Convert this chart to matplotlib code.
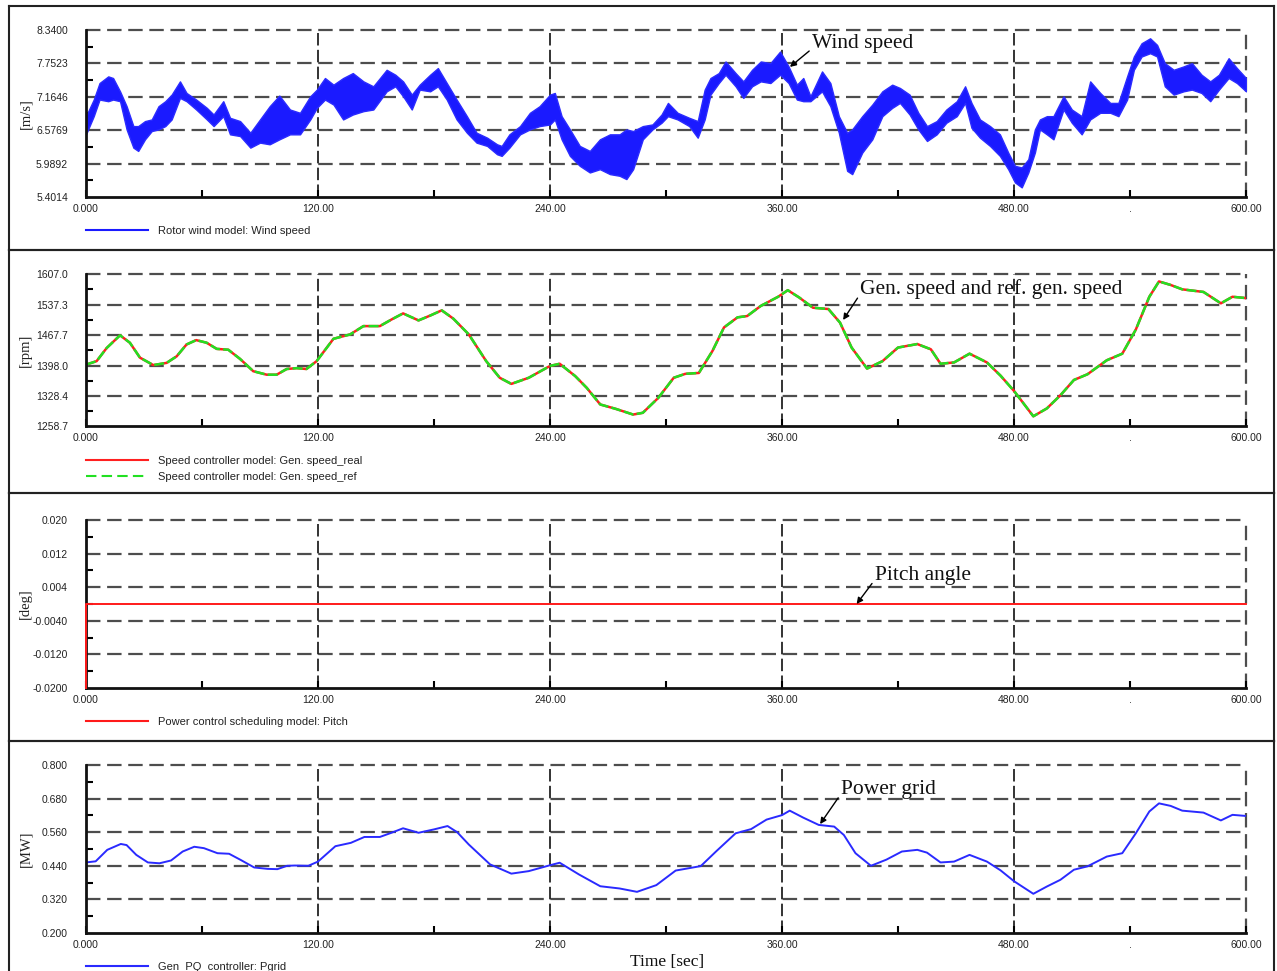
import matplotlib
matplotlib.use("Agg")
import matplotlib.pyplot as plt
from matplotlib.lines import Line2D

# ---------------- data ----------------
wind_t = [0, 4, 7, 11.5, 14, 17.6, 21, 24.5, 27, 30.5, 34, 37.5, 41, 44.3, 48.6, 52, 57, 62.5, 66, 71,
          74.5, 79.7, 85, 90, 95, 100, 105.5, 110.7, 116, 119.4, 123.6, 128, 133, 138, 143.5, 148.6,
          155.5, 160, 164, 168.5, 172.6, 178, 182, 186.6, 191.7, 197, 202, 207.5, 212.6, 215, 219,
          224.5, 229.6, 234.6, 240, 242.5, 246, 250.3, 255.4, 260.6, 265.8, 271, 276, 279.5, 283, 288,
          293, 297.7, 301, 306, 312, 316.4, 320, 323, 327.3, 330.8, 336, 340, 344.5, 349, 354, 359,
          363.4, 367.7, 371, 374.7, 380.7, 385, 389.4, 393.7, 396.3, 401.5, 406.7, 411.9, 417, 421,
          426, 430.5, 435, 440, 445, 450.4, 454.7, 458, 462.4, 467.6, 472.7, 477, 480.5, 484, 487.4,
          490.8, 493.4, 497, 500.4, 505.6, 509.9, 515, 519.4, 524.6, 529.8, 534, 538.5, 542, 546,
          550.4, 554, 558, 562.6, 567.7, 572, 577, 581.5, 586, 591, 595.3, 600]
wind_lo = [6.504, 6.824, 7.116, 7.087, 7.116, 7.087, 6.591, 6.27, 6.212, 6.416, 6.562, 6.591, 6.649, 6.766,
           7.145, 7.087, 6.941, 6.766, 6.649, 6.824, 6.504, 6.474, 6.27, 6.358, 6.329, 6.416, 6.504, 6.504,
           6.766, 6.97, 7.116, 7.028, 6.766, 6.853, 6.912, 6.941, 7.261, 7.349, 7.174, 6.941, 7.291, 7.261,
           7.349, 7.116, 6.766, 6.533, 6.358, 6.3, 6.154, 6.125, 6.27, 6.504, 6.591, 6.649, 6.678, 6.766,
           6.416, 6.125, 5.95, 5.833, 5.891, 5.804, 5.775, 5.717, 5.891, 6.416, 6.591, 6.708, 6.824, 6.766,
           6.649, 6.445, 6.766, 7.203, 7.407, 7.553, 7.349, 7.145, 7.349, 7.436, 7.407, 7.553, 7.407, 7.116,
           7.087, 7.087, 7.261, 6.999, 6.533, 5.862, 5.804, 6.183, 6.416, 6.824, 6.97, 7.057, 6.853, 6.591,
           6.387, 6.504, 6.708, 6.824, 7.057, 6.62, 6.445, 6.3, 6.125, 5.891, 5.658, 5.571, 5.833, 6.183,
           6.591, 6.504, 6.416, 6.941, 6.708, 6.504, 6.766, 6.883, 6.883, 6.824, 7.116, 7.64, 7.874, 7.932,
           7.874, 7.349, 7.203, 7.261, 7.291, 7.232, 7.087, 7.291, 7.495, 7.407, 7.261]
wind_hi = [6.824, 7.116, 7.407, 7.524, 7.495, 7.261, 6.999, 6.649, 6.649, 6.737, 6.766, 6.999, 7.087, 7.203,
           7.436, 7.232, 7.116, 6.97, 6.853, 7.087, 6.795, 6.737, 6.533, 6.766, 6.999, 7.186, 6.941, 6.883,
           7.174, 7.291, 7.495, 7.378, 7.495, 7.582, 7.436, 7.349, 7.64, 7.553, 7.436, 7.203, 7.378, 7.553,
           7.67, 7.407, 7.116, 6.824, 6.533, 6.445, 6.329, 6.3, 6.504, 6.649, 6.883, 6.999, 7.203, 7.232,
           6.824, 6.591, 6.3, 6.212, 6.416, 6.504, 6.504, 6.591, 6.562, 6.649, 6.678, 6.853, 7.057, 6.883,
           6.795, 6.737, 7.291, 7.495, 7.582, 7.786, 7.582, 7.436, 7.64, 7.786, 7.757, 7.961, 7.699, 7.378,
           7.495, 7.174, 7.611, 7.407, 6.824, 6.533, 6.591, 6.824, 7.028, 7.261, 7.378, 7.32, 7.203, 6.883,
           6.649, 6.737, 6.941, 7.087, 7.349, 7.057, 6.766, 6.649, 6.504, 6.183, 5.95, 5.921, 6.066, 6.591,
           6.766, 6.824, 6.824, 7.174, 6.941, 6.824, 7.436, 7.232, 7.057, 7.057, 7.524, 7.874, 8.107, 8.194,
           8.078, 7.757, 7.64, 7.699, 7.757, 7.553, 7.436, 7.553, 7.844, 7.67, 7.495]

speed_t = [0, 5.5, 10.7, 17.6, 22.7, 27.9, 34.8, 41.7, 46.9, 52, 57, 62.4, 67.6, 73.6, 79.7, 86.5, 93.5,
           98.6, 103.8, 109, 114, 119.3, 128, 136.6, 143.5, 152, 158, 164, 172, 178, 184, 190, 198, 207,
           214, 220, 229, 240, 245, 253, 259, 266, 274, 283, 288, 296, 304, 310, 317, 324, 330, 337, 342,
           349, 358, 363, 369, 376, 384, 390, 396, 404, 412, 420, 430, 437, 442, 449, 457, 466, 473, 480,
           490, 497, 504, 511, 518, 528, 536, 543, 550, 555, 561, 567, 578, 587, 593, 600]
speed_val = [1400, 1408, 1438, 1467, 1450, 1416, 1399, 1404, 1419, 1446, 1456, 1450, 1436, 1434, 1413,
             1385, 1377, 1377, 1390, 1392, 1390, 1408, 1459, 1469, 1488, 1488, 1503, 1517, 1501, 1512,
             1524, 1505, 1469, 1408, 1370, 1356, 1370, 1397, 1402, 1374, 1347, 1309, 1299, 1286, 1290,
             1324, 1370, 1379, 1381, 1431, 1485, 1508, 1511, 1534, 1555, 1570, 1553, 1530, 1527, 1496,
             1439, 1391, 1408, 1439, 1447, 1435, 1402, 1405, 1425, 1405, 1375, 1340, 1282, 1300, 1330,
             1365, 1378, 1410, 1425, 1480, 1555, 1590, 1582, 1572, 1566, 1540, 1555, 1552]

pitch_t = [0, 0, 600]
pitch_val = [-0.02, 0.0, 0.0]

power_t = [0, 5, 11, 18, 21, 26, 32, 38, 44, 50, 56, 61, 68, 74, 80, 87, 94, 99, 104, 108, 115, 120,
           129, 137, 144, 152, 158, 164, 172, 180, 187, 192, 198, 209, 220, 229, 240, 245, 255, 266, 276,
           285, 295, 305, 318, 326, 336, 344, 352, 360, 364, 371, 379, 387, 392, 398, 406, 414, 422, 430,
           435, 442, 449, 457, 466, 473, 480, 490, 497, 504, 511, 518, 528, 536, 543, 550, 555, 561, 567,
           578, 587, 593, 600]
power_val = [0.452, 0.456, 0.497, 0.518, 0.514, 0.479, 0.452, 0.449, 0.459, 0.491, 0.508, 0.503, 0.485,
             0.483, 0.461, 0.434, 0.429, 0.428, 0.440, 0.441, 0.440, 0.455, 0.510, 0.522, 0.543, 0.543,
             0.558, 0.574, 0.558, 0.570, 0.582, 0.560, 0.516, 0.445, 0.412, 0.421, 0.442, 0.451, 0.409,
             0.367, 0.359, 0.347, 0.371, 0.423, 0.439, 0.492, 0.556, 0.571, 0.605, 0.621, 0.637, 0.612,
             0.586, 0.580, 0.550, 0.485, 0.440, 0.462, 0.491, 0.497, 0.487, 0.452, 0.455, 0.479, 0.455,
             0.424, 0.385, 0.340, 0.366, 0.390, 0.426, 0.438, 0.473, 0.485, 0.556, 0.634, 0.663, 0.654,
             0.637, 0.630, 0.602, 0.622, 0.618]

x_ticks = [0, 120, 240, 360, 480, 540, 600]
x_ticklabels = ["0.000", "120.00", "240.00", "360.00", "480.00", ".", "600.00"]
x_minor = [60, 180, 300, 420]
x_grid = [120, 240, 360, 480]

wind_ticks = [5.4014, 5.9892, 6.5769, 7.1646, 7.7523, 8.3400]
wind_labels = ["5.4014", "5.9892", "6.5769", "7.1646", "7.7523", "8.3400"]
speed_ticks = [1258.7, 1328.4, 1398.0, 1467.7, 1537.3, 1607.0]
speed_labels = ["1258.7", "1328.4", "1398.0", "1467.7", "1537.3", "1607.0"]
pitch_ticks = [-0.02, -0.012, -0.004, 0.004, 0.012, 0.020]
pitch_labels = ["-0.0200", "-0.0120", "-0.0040", "0.004", "0.012", "0.020"]
power_ticks = [0.2, 0.32, 0.44, 0.56, 0.68, 0.8]
power_labels = ["0.200", "0.320", "0.440", "0.560", "0.680", "0.800"]

# ---------------- figure ----------------
W, H = 1277, 971
fig = plt.figure(figsize=(W / 100, H / 100), dpi=100)
fig.patch.set_facecolor("white")

SANS = ["Liberation Sans", "DejaVu Sans"]
SERIF = ["Liberation Serif", "DejaVu Serif"]

# panel frames (pixel boxes: top, bottom)
frames = [(6, 250), (250, 493), (493, 741), (741, 995)]
for top, bot in frames:
    fa = fig.add_axes([9 / W, 1 - bot / H, 1265 / W, (bot - top) / H], zorder=0)
    fa.set_xticks([])
    fa.set_yticks([])
    fa.patch.set_alpha(0)
    for s in fa.spines.values():
        s.set_linewidth(1.5)
        s.set_color("#222222")

# axes boxes (pixel: top, bottom)
axboxes = [(30, 197), (274, 426.5), (520, 688), (765, 933)]
axes = []
for top, bot in axboxes:
    ax = fig.add_axes([86 / W, 1 - bot / H, 1160 / W, (bot - top) / H], zorder=2)
    ax.patch.set_alpha(0)
    axes.append(ax)

hgrid_style = dict(color="#4d4d4d", lw=1.6, ls=(0, (6.5, 3.0)), zorder=1, clip_on=False)
vgrid_style = dict(color="#111111", lw=1.2, ls=(0, (7.5, 2.6)), zorder=1)


def style_axis(ax, yticks, ylabels, ylabel):
    ax.set_xlim(0, 600)
    ax.set_ylim(yticks[0], yticks[-1])
    for s in ("top", "right"):
        ax.spines[s].set_visible(False)
    for s in ("left", "bottom"):
        ax.spines[s].set_linewidth(2.0)
        ax.spines[s].set_color("#111111")
        ax.spines[s].set_zorder(4)
    for v in yticks[1:]:
        ax.axhline(v, **hgrid_style)
    for t in x_grid:
        ax.axvline(t, **vgrid_style)
    ax.axvline(600, **hgrid_style)
    ax.set_xticks(x_ticks)
    ax.set_xticklabels(x_ticklabels, fontsize=7.5, family=SANS, color="#222222")
    ax.set_xticks(x_minor, minor=True)
    ax.set_yticks(yticks)
    ax.set_yticklabels(ylabels, fontsize=7.5, family=SANS, color="#222222")
    ax.set_yticks([(a + b) / 2 for a, b in zip(yticks[:-1], yticks[1:])], minor=True)
    ax.tick_params(axis="x", which="both", direction="in", length=5, width=1.5, pad=5)
    ax.tick_params(axis="y", which="major", direction="in", length=0, pad=13)
    ax.tick_params(axis="y", which="minor", direction="in", length=5, width=1.5)
    ax.set_ylabel(ylabel, fontsize=10.5, family=SERIF, color="#222222")
    ax.yaxis.set_label_coords(-0.0465, 0.5)


def add_legend(ax, handles, ycenter):
    leg = ax.legend(handles=handles, loc="center left", bbox_to_anchor=(0.0, ycenter),
                    frameon=False, borderpad=0, borderaxespad=0, handlelength=5.6,
                    handletextpad=0.9, labelspacing=0.55,
                    prop={"family": SANS, "size": 8})
    for txt in leg.get_texts():
        txt.set_color("#222222")


arrow = dict(arrowstyle="-|>", color="black", lw=1.0, mutation_scale=9, shrinkA=0, shrinkB=0)

# Panel 1: wind speed
ax = axes[0]
style_axis(ax, wind_ticks, wind_labels, "[m/s]")
ax.fill_between(wind_t, wind_lo, wind_hi, color="#1a1aff", lw=1.0, edgecolor="#2b2bff", zorder=3)
add_legend(ax, [Line2D([0], [0], color="#1a1aff", lw=1.5, label="Rotor wind model: Wind speed")], -0.204)
ax.annotate("Wind speed", xy=(364.1, 7.69), xytext=(375.5, 8.094), ha="left", va="center",
            fontsize=15.5, family=SERIF, color="#111111", zorder=6,
            arrowprops=dict(arrow, relpos=(0.0, 0.25)))

# Panel 2: generator speed
ax = axes[1]
style_axis(ax, speed_ticks, speed_labels, "[rpm]")
ax.plot(speed_t, speed_val, color="#ff2020", lw=1.8, zorder=3)
ax.plot(speed_t, speed_val, color="#22e022", lw=1.8, ls=(0, (4, 1.3)), zorder=3.5)
add_legend(ax, [Line2D([0], [0], color="#ff2020", lw=1.5, label="Speed controller model: Gen. speed_real"),
                Line2D([0], [0], color="#22e022", lw=1.5, ls=(0, (5, 2.5)),
                       label="Speed controller model: Gen. speed_ref")], -0.279)
ax.annotate("Gen. speed and ref. gen. speed", xy=(391.6, 1502), xytext=(400.5, 1572.9), ha="left",
            va="center", fontsize=15.5, family=SERIF, color="#111111", zorder=6,
            arrowprops=dict(arrow, relpos=(0.0, 0.25)))

# Panel 3: pitch angle
ax = axes[2]
style_axis(ax, pitch_ticks, pitch_labels, "[deg]")
ax.plot(pitch_t, pitch_val, color="#ff1a1a", lw=1.4, zorder=5, clip_on=False)
add_legend(ax, [Line2D([0], [0], color="#ff1a1a", lw=1.5, label="Power control scheduling model: Pitch")], -0.2006)
ax.annotate("Pitch angle", xy=(398.6, 0.0), xytext=(408, 0.0069), ha="left", va="center",
            fontsize=15.5, family=SERIF, color="#111111", zorder=6,
            arrowprops=dict(arrow, relpos=(0.0, 0.25)))

# Panel 4: power
ax = axes[3]
style_axis(ax, power_ticks, power_labels, "[MW]")
ax.plot(power_t, power_val, color="#2a2aff", lw=1.4, zorder=3)
add_legend(ax, [Line2D([0], [0], color="#2a2aff", lw=1.5, label="Gen_PQ_controller: Pgrid")], -0.2006)
ax.annotate("Power grid", xy=(379.7, 0.589), xytext=(390.5, 0.714), ha="left", va="center",
            fontsize=15.5, family=SERIF, color="#111111", zorder=6,
            arrowprops=dict(arrow, relpos=(0.0, 0.25)))

fig.text(667 / W, 1 - 962 / H, "Time [sec]", ha="center", va="center", fontsize=12.5,
         family=SERIF, color="#111111")

fig.savefig("out.png", dpi=100, facecolor="white")
